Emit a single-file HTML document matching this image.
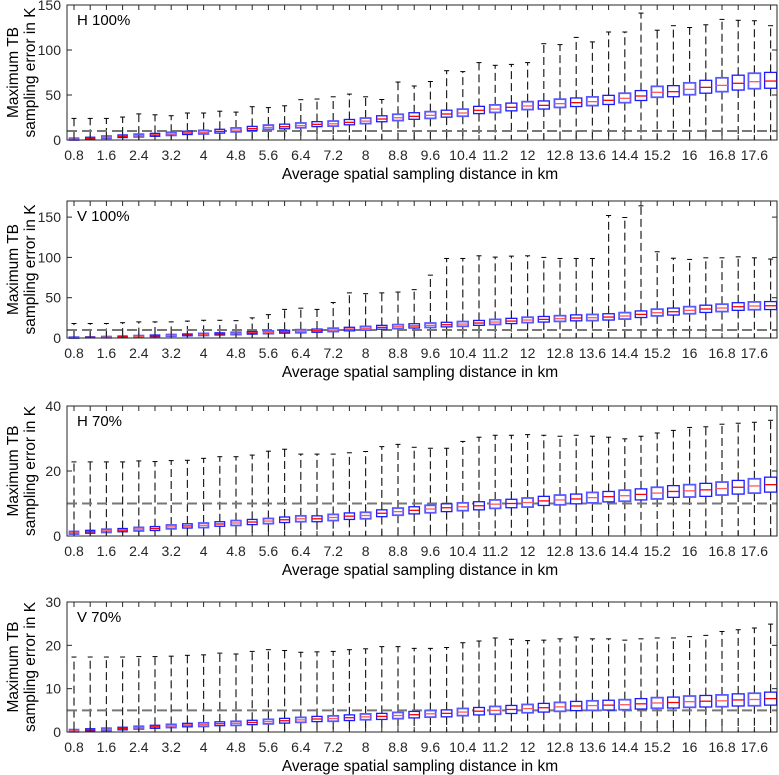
<!DOCTYPE html>
<html><head><meta charset="utf-8"><style>
html,body{margin:0;padding:0;background:#fff;}
svg{display:block;font-family:"Liberation Sans",Arial,sans-serif;}
</style></head><body>
<svg id="chart" width="779" height="775" viewBox="0 0 779 775" xmlns="http://www.w3.org/2000/svg"></svg>
<script>
const xTickLabels = ["0.8","1.6","2.4","3.2","4","4.8","5.6","6.4","7.2","8","8.8","9.6","10.4","11.2","12","12.8","13.6","14.4","15.2","16","16.8","17.6"];
const panelNames = ["H 100%","V 100%","H 70%","V 70%"];
const refLevels = [10,10,10,5];
const yMaxes = [150,170,40,30];
const yTickSets = [[0,50,100,150],[0,50,100,150],[0,20,40],[0,10,20,30]];

const h100Med = [0.8,1.9,3,4,4.8,5.6,6.7,7.8,8.5,9.6,11,12.6,14,14.8,16,17.4,18,19.6,21,23.3,24.8,26.3,27.4,28.9,30,33,34.4,36.3,37.8,38.5,40.4,41.5,42.6,44.1,46.3,48.9,53,53.7,56.3,58.5,60.7,63,64.8,65.5];
const h100Q1 = [0,0.9,1.8,2.7,3.4,4.1,5.1,6.1,6.7,7.7,9,10.5,11.8,12.5,13.6,14.9,15.4,16.9,18.2,20.3,21.6,23,24,25.4,26.4,29.3,30.6,32.4,33.8,34.4,36.2,37.2,38.2,39.5,41.5,43.9,47.5,48.1,50.3,52,53.7,55.5,57,57.5];
const h100Q3 = [2,3.1,4.4,5.6,6.5,7.4,8.6,9.8,10.7,11.9,13.4,15.1,16.6,17.6,18.9,20.4,21.1,22.8,24.4,26.9,28.6,30.3,31.5,33.1,34.3,37.4,39,41,42.6,43.4,45.4,46.7,47.9,49.6,52,54.9,59.6,60.4,63.5,66.3,69.1,72,74.2,75.1];
const h100Max = [24,24,24,25.5,29,28,27,30,30,32,31,37,36,38,44.8,45.5,48,51,48,45,64.4,60,65,77,76,86,83,84,86,107,106,114,109,120,120,141,122,127,125,128,134,133,132.5,127];

const v100Med = [0.5,0.7,1,1.5,2,2.6,3.2,3.8,4.4,5,5.6,6.3,7,7.7,8.3,9,10,11,12,13.2,14,14.9,15.7,16.5,17.3,18.6,19.8,21,22.3,23.1,24,24.8,25.2,26,27.3,29.3,31.4,32.6,34.3,36,37.2,38.8,39.7,40];
const v100Q1 = [0,0.1,0.3,0.7,1.1,1.6,2.2,2.7,3.2,3.7,4.2,4.8,5.4,6,6.5,7.1,8,8.9,9.8,10.9,11.6,12.4,13.1,13.8,14.5,15.7,16.8,17.9,19.1,19.8,20.6,21.3,21.6,22.3,23.5,25.4,27.4,28.5,30.1,31.7,32.8,34.3,35.1,35.3];
const v100Q3 = [1.1,1.4,1.8,2.4,3,3.7,4.3,5,5.7,6.4,7.1,8,8.8,9.6,10.3,11.1,12.2,13.3,14.4,15.7,16.6,17.7,18.6,19.5,20.4,21.8,23.1,24.4,25.8,26.7,27.7,28.7,29.2,30.1,31.5,33.6,35.8,37.1,38.9,40.7,42,43.8,44.8,45.2];
const v100Max = [18,18,18,19,20,20,20,21,22,22,21.5,25,29,35.5,37,35.5,44,56,55,56,57,60,78,98.7,98.7,102,100.4,101.6,102,100,98.7,98.7,98.7,152,149.5,164,107,99,97.5,99.5,99.5,100.7,99.5,98];

const h70Med = [1,1.3,1.6,1.8,2.1,2.3,2.8,3.1,3.3,3.7,4,4.3,4.6,5,5.3,5.3,5.7,6.1,6.3,7,7.5,7.9,8.3,8.7,9,9.3,9.8,10,10.3,10.8,11.1,11.4,11.8,12.1,12.4,12.8,13.2,13.7,13.9,14.2,14.6,15,15.4,15.8];
const h70Q1 = [0.6,0.85,1.1,1.3,1.55,1.7,2.2,2.45,2.6,3,3.25,3.5,3.8,4.15,4.4,4.4,4.75,5.1,5.3,5.95,6.4,6.8,7.15,7.5,7.8,8.05,8.5,8.7,8.9,9.4,9.6,9.9,10.2,10.5,10.7,11.1,11.4,11.9,12,12.2,12.6,12.9,13.2,13.5];
const h70Q3 = [1.4,1.75,2.1,2.3,2.65,2.9,3.4,3.75,4,4.4,4.75,5.1,5.4,5.85,6.2,6.2,6.65,7.1,7.3,8.05,8.6,9,9.45,9.9,10.2,10.55,11.1,11.3,11.7,12.2,12.6,12.9,13.4,13.7,14.1,14.5,15,15.5,15.8,16.2,16.6,17.1,17.6,18.1];
const h70Max = [22.8,22.8,22.8,22.8,23.1,22.9,23.2,23.3,23.9,24.4,24.4,24.9,26.1,26.7,25.2,25.2,25.2,25.6,26,27.5,28.2,27.3,27,27,29.1,30.4,31,31,31.2,31,30.7,31,30.7,30.4,29.9,30.7,31.7,32.5,33.4,33.6,34.4,34.7,35,35.6];

const v70Med = [0.3,0.5,0.6,0.8,1,1.2,1.4,1.6,1.7,1.9,2,2.2,2.4,2.6,2.8,3,3.1,3.3,3.5,3.6,3.8,4,4.2,4.3,4.6,4.8,5,5.2,5.4,5.6,5.8,6,6.1,6.2,6.3,6.5,6.7,6.8,7,7.1,7.2,7.4,7.5,7.7];
const v70Q1 = [0.05,0.25,0.32,0.5,0.68,0.85,1.03,1.2,1.28,1.45,1.53,1.7,1.88,2.05,2.23,2.4,2.48,2.65,2.83,2.9,3.08,3.25,3.43,3.5,3.77,3.94,4.1,4.27,4.44,4.6,4.77,4.94,5,5.07,5.14,5.3,5.47,5.54,5.7,5.77,5.84,6,6.05,6.2];
const v70Q3 = [0.55,0.75,0.88,1.1,1.32,1.55,1.77,2,2.12,2.35,2.47,2.7,2.92,3.15,3.37,3.6,3.72,3.95,4.17,4.3,4.52,4.75,4.97,5.1,5.43,5.66,5.9,6.13,6.36,6.6,6.83,7.06,7.2,7.33,7.46,7.7,7.93,8.06,8.3,8.43,8.56,8.8,8.95,9.2];
const v70Max = [17.3,17.3,17.3,17.3,17.4,17.4,17.5,17.7,17.8,18.2,18,18.6,19,18.8,18.4,18.5,18.6,19,19.2,19.7,19.7,19.3,19.3,19.5,20.6,21,21.7,21.4,21.1,21.2,21.5,21.9,21.5,21.5,21.2,21.5,21.7,21.7,22,22.3,23.2,23.6,24,24.9];

const NS = "http://www.w3.org/2000/svg";
const svg = document.getElementById("chart");
function mk(tag, attrs, parent){ const e=document.createElementNS(NS,tag); for(const k in attrs) e.setAttribute(k,attrs[k]); (parent||svg).appendChild(e); return e; }

const L = 67, R = 777;
const tops = [5,201,406,602], bottoms = [140,338,536,732];
const N = 44;
const x0 = 74, dx = 16.2;
function xScale(i){ return x0 + i*dx; }

const panels = [
 [h100Med,h100Q1,h100Q3,h100Max],
 [v100Med,v100Q1,v100Q3,v100Max],
 [h70Med,h70Q1,h70Q3,h70Max],
 [v70Med,v70Q1,v70Q3,v70Max]
];

panels.forEach((p,pi)=>{
  const [med,q1,q3,mx]=p;
  const T=tops[pi], B=bottoms[pi], ymax=yMaxes[pi];
  const y = v => B - (v/ymax)*(B-T);
  const g = mk("g",{});
  
  
  for(let i=0;i<N;i++){
    const cx=xScale(i);
    const w1=mk("line",{x1:cx,x2:cx,y1:y(q3[i]),y2:y(mx[i]),stroke:"#222","stroke-width":1.2,"stroke-dasharray":"8,4"},g);
    
    
    const w2=mk("line",{x1:cx,x2:cx,y1:y(q1[i]),y2:B,stroke:"#222","stroke-width":1.2,"stroke-dasharray":"8,4"},g);
    
    
    const cap=mk("line",{x1:cx-2.5,x2:cx+2.5,y1:y(mx[i]),y2:y(mx[i]),stroke:"#000","stroke-width":1},g);
    
    
  }
  const ref=mk("line",{x1:L,x2:R,y1:y(refLevels[pi]),y2:y(refLevels[pi]),stroke:"#777","stroke-width":2,"stroke-dasharray":"10,5"},g);
  
  
  for(let i=0;i<N;i++){
    const cx=xScale(i), bw=Math.min(12, 9 + i*0.07);
    const light = (i%2===0);
    const bx=mk("rect",{x:cx-bw/2,y:y(q3[i]),width:bw,height:Math.max(1,y(q1[i])-y(q3[i])),fill:"#fff",stroke:light?"#5a5aff":"#1a1aff","stroke-width":light?1.8:1.3},g);
    
    
    const md=mk("line",{x1:cx-bw/2,x2:cx+bw/2,y1:y(med[i]),y2:y(med[i]),stroke:light?"#ff5a5a":"#ff0000","stroke-width":1.3},g);
    
    
  }
  const fr=mk("rect",{x:L,y:T,width:R-L,height:B-T,fill:"none",stroke:"#262626","stroke-width":1},g);
  
  
  for(let i=0;i<N;i++){
    const cx=xScale(i);
    mk("line",{x1:cx,x2:cx,y1:B,y2:B-5,stroke:"#262626","stroke-width":1},g);
    mk("line",{x1:cx,x2:cx,y1:T,y2:T+5,stroke:"#262626","stroke-width":1},g);
  }
  xTickLabels.forEach((lab,k)=>{
    const t=mk("text",{x:xScale(k*2),y:B+20,"text-anchor":"middle","font-size":14,fill:"#262626"},g);
    t.textContent=lab;
    
    
  });
  yTickSets[pi].forEach(v=>{
    mk("line",{x1:L,x2:L+5,y1:y(v),y2:y(v),stroke:"#262626"},g);
    mk("line",{x1:R,x2:R-5,y1:y(v),y2:y(v),stroke:"#262626"},g);
    const t=mk("text",{x:L-6,y:y(v)+5,"text-anchor":"end","font-size":14,fill:"#262626"},g);
    t.textContent=String(v);
    
    
  });
  const pl=mk("text",{x:77,y:T+20,"font-size":15,fill:"#000"},g);
  pl.textContent=panelNames[pi];
  
  
  const xt=mk("text",{x:420,y:B+39,"text-anchor":"middle","font-size":15.5,fill:"#000"},g);
  xt.textContent="Average spatial sampling distance in km";
  
  
  const cy=(T+B)/2;
  const yt1=mk("text",{x:0,y:0,"text-anchor":"middle","font-size":15.5,fill:"#000",transform:`translate(18,${cy}) rotate(-90)`},g);
  yt1.textContent="Maximum TB";
  
  
  const yt2=mk("text",{x:0,y:0,"text-anchor":"middle","font-size":15.5,fill:"#000",transform:`translate(35,${cy}) rotate(-90)`},g);
  yt2.textContent="sampling error in K";
  
  
});
</script>
</body></html>
